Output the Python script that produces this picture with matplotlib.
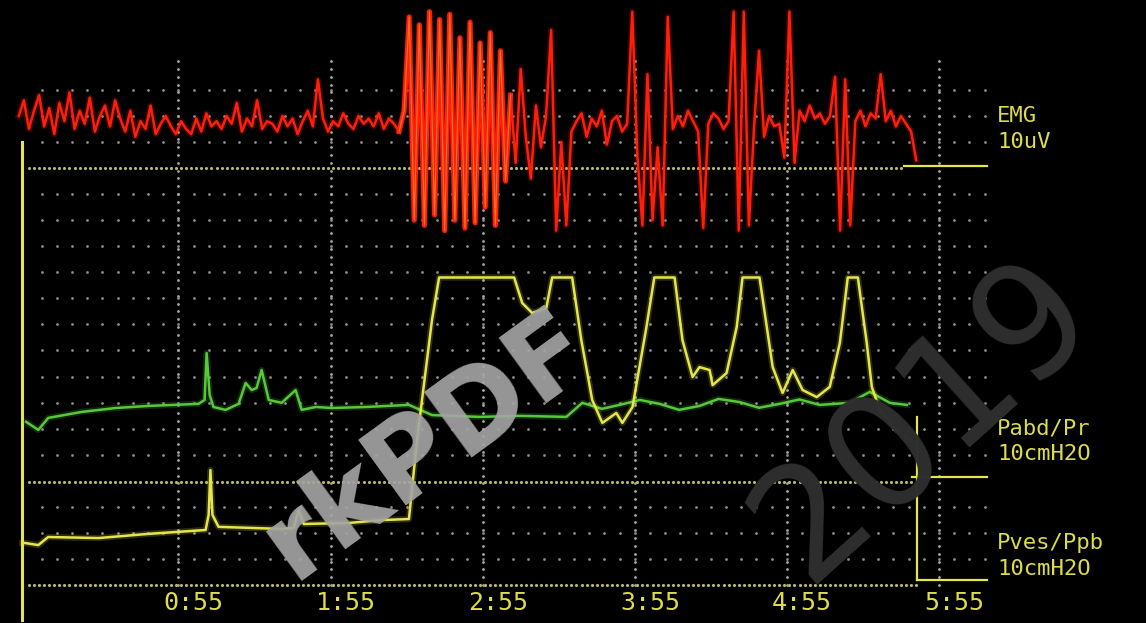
import matplotlib
matplotlib.use("Agg")
import matplotlib.pyplot as plt
import numpy as np

# Vesical pressure (Pves) - time in s, pressure in cmH2O
pves_t = [-6.6, -5.5, -0.3, 3.6, 23.4, 43.1, 65.7, 66.9, 67.6, 68.4, 70.8, 95.7,
          100.5, 102.4, 104.4, 122.2, 135.2, 145.9, 149.1, 155.0, 157.8, 187.4,
          190.6, 194.5, 200.1, 202.4, 210.3, 213.9, 218.2, 222.2, 227.7, 230.1,
          234.1, 239.6, 242.7, 250.7, 253.8, 257.8, 260.5, 264.5, 265.7, 271.2,
          275.2, 277.5, 284.2, 289.4, 293.3, 297.3, 301.2, 306.8, 311.9, 315.9,
          319.0, 323.0, 326.5, 328.5, 331.7, 338.4, 344.7]
pves_v = [16.1, 16.1, 15.3, 18.4, 18.0, 19.6, 21.1, 26.9, 44.1, 26.9, 22.3, 21.5,
          21.9, 28.8, 23.4, 23.8, 24.9, 25.3, 55.6, 101.7, 118, 118,
          108.2, 104.4, 106.3, 118, 118, 94.0, 71.0, 62.2, 66.0, 62.2,
          68.3, 99.0, 118, 118, 94.0, 79.8, 83.6, 82.5, 76.7, 81.3,
          99.0, 118, 118, 83.6, 73.7, 82.5, 74.8, 72.1, 76.0, 92.9,
          118, 118, 92.9, 76.0, 67.1, 59.5, 54.5]

# Abdominal pressure (Pabd) - cmH2O
pabd_t = [-5.1, -0.3, 3.6, 16.7, 30.1, 43.1, 62.9, 65.3, 66.1, 67.3, 68.8, 73.6,
          78.7, 81.5, 83.9, 85.8, 87.8, 90.6, 95.7, 101.2, 103.6, 109.2, 115.5,
          128.9, 145.9, 155.0, 173.6, 189.4, 208.0, 214.3, 222.0, 229.0, 237.0,
          244.8, 252.5, 260.5, 268.0, 276.3, 284.0, 292.1, 300.0, 307.9, 319.8,
          327.7, 335.6, 342.3]
pabd_v = [22.6, 19.5, 24.1, 26.4, 27.9, 28.7, 29.5, 31.0, 49.0, 32.9, 28.3, 27.2,
          29.5, 37.5, 34.8, 35.6, 42.5, 31.0, 29.9, 34.8, 27.2, 28.3, 27.9,
          28.3, 29.1, 25.2, 24.5, 24.9, 24.5, 29.9, 27.6, 29.1, 31.0,
          29.5, 27.2, 28.7, 31.4, 30.2, 28.0, 29.5, 31.2, 29.1, 29.9,
          34.1, 29.9, 29.1]

# EMG - uV, one sample every 2 s starting at -8 s
emg_rows = [
    [20, 26, 15, 22, 28, 16, 23, 13, 25, 18],
    [29, 15, 22, 17, 27, 14, 20, 24, 16, 26],
    [19, 14, 22, 12, 18, 15, 24, 13, 17, 20],
    [16, 13, 18, 15, 13, 19, 14, 21, 16, 18],
    [15, 20, 17, 25, 14, 19, 16, 26, 15, 18],
    [17, 14, 20, 16, 19, 13, 18, 22, 16, 34],
    [19, 14, 18, 16, 21, 17, 15, 20, 17, 19],
    [16, 21, 15, 19, 17, 14, 22, 58, -20, 55],
    [-22, 60, -18, 57, -24, 59, -20, 50, -23, 56],
    [-21, 48, -15, 52, -22, 45, -5, 28, 2, 38],
    [12, -4, 24, 8, 20, 53, -24, 10, -22, 14],
    [18, 21, 12, 19, 16, 22, 9, 18, 20, 14],
    [17, 60, 5, -22, 36, -20, 8, -22, 58, 15],
    [20, 16, 22, 18, 14, -23, 17, 21, 19, 15],
    [18, 60, -24, 60, -22, 15, 45, 12, 20, 16],
    [17, 4, 60, 2, 22, 18, 24, 19, 21, 17],
    [20, 35, -24, 34, -22, 18, 22, 16, 21, 19],
    [36, 18, 22, 16, 20, 17, 14, 3],
]
emg_v = [v for row in emg_rows for v in row]
emg_t = -8 + 2 * np.arange(len(emg_v))

time_ticks = [55, 115, 175, 235, 295, 355]
time_labels = ["0:55", "1:55", "2:55", "3:55", "4:55", "5:55"]
channel_names = ["EMG", "Pabd/Pr", "Pves/Ppb"]
channel_scales = ["10uV", "10cmH2O", "10cmH2O"]

cursor_t = 346.3
sweep_t = -6.6
end_t = 374

# baselines in grid divisions, 10 units per division
EMG_BASE, PABD_BASE, PVES_BASE = 16, 4, 0

YEL = "#e4e64a"
GRN = "#58c83a"
RED = "#ff1e0a"
LAB = "#dcdc4c"

fig = plt.figure(figsize=(11.46, 6.23), dpi=100, facecolor="black")
ax = fig.add_axes([0, 0, 1, 1], facecolor="black")
ax.set_xlim(-15.41, 436.66)
ax.set_ylim(-1.46, 22.45)
ax.axis("off")

# dot grid
gx = 55 + 6 * np.arange(-9, 54)
rows = [r for r in range(1, 20) if r not in (4, 16)]
GX, GY = np.meshgrid(gx, rows)
ax.scatter(GX.ravel(), GY.ravel(), s=4, color="#8c8c8c", lw=0, zorder=1)
vy = np.arange(0, 20.2, 0.3)
for t in time_ticks:
    ax.scatter(np.full(len(vy), t), vy, s=4, color="#a8a8a0", lw=0, zorder=1)

# dense reference lines
for b, stop in ((PVES_BASE, cursor_t), (PABD_BASE - 0.05, cursor_t - 2), (EMG_BASE, cursor_t - 5)):
    dx = np.arange(-4, stop, 2)
    ax.scatter(dx, np.full(len(dx), b), s=5, color="#b8b868", lw=0, zorder=1)
ax.plot([cursor_t - 5, end_t], [EMG_BASE + 0.08, EMG_BASE + 0.08], color=YEL, lw=1.6, zorder=3)
ax.plot([cursor_t - 2, end_t], [PABD_BASE + 0.14, PABD_BASE + 0.14], color=YEL, lw=1.6, zorder=3)
ax.plot([cursor_t, end_t], [PVES_BASE + 0.2, PVES_BASE + 0.2], color=YEL, lw=1.6, zorder=3)
ax.plot([cursor_t, cursor_t], [PVES_BASE + 0.2, 6.45], color=YEL, lw=1.6, zorder=3)
ax.axvline(sweep_t, ymin=0.005, ymax=0.772, color=YEL, lw=2.2, zorder=3)

# watermark behind traces
fig.text(925 / 1146, 1 - 420 / 623, "2019", fontsize=112, color="#2e2e2e",
         rotation=42, ha="center", va="center", rotation_mode="anchor", zorder=2)

# traces
pv = PVES_BASE + np.array(pves_v) / 10
pa = PABD_BASE + np.array(pabd_v) / 10
em = EMG_BASE + np.array(emg_v) / 10
for lw, a in ((4.5, 0.2), (1.8, 1.0)):
    ax.plot(pabd_t, pa, color=GRN, lw=lw, alpha=a, zorder=4)
    ax.plot(pves_t, pv, color=YEL, lw=lw, alpha=a, zorder=5)
    ax.plot(emg_t, em, color=RED, lw=lw, alpha=a, zorder=5)
burst = (emg_t >= 142) & (emg_t <= 186)
ax.plot(emg_t[burst], em[burst], color=RED, lw=3.6, zorder=5)
ax.plot(emg_t[burst], em[burst], color="#ff9a30", lw=0.8, alpha=0.7, zorder=6)

# labels
for t, lab in zip(time_ticks, time_labels):
    ax.text(t + 6, -0.7, lab, color=LAB, fontsize=18, family="DejaVu Sans Mono",
            ha="center", va="center", zorder=7)
label_y = [(18.0, 17.0), (6.02, 5.02), (1.6, 0.62)]
for name, scale, (y1, y2) in zip(channel_names, channel_scales, label_y):
    ax.text(377.9, y1, name, color=LAB, fontsize=16, family="DejaVu Sans Mono",
            ha="left", va="center", zorder=7)
    ax.text(377.9, y2, scale, color=LAB, fontsize=16, family="DejaVu Sans Mono",
            ha="left", va="center", zorder=7)

fig.text(428 / 1146, 1 - 445 / 623, "rkPDF", fontsize=80, fontweight="bold",
         color="#a4a4a4", alpha=0.92, rotation=36, ha="center", va="center",
         rotation_mode="anchor", zorder=8)

fig.savefig("out.png", dpi=100, facecolor="black")
